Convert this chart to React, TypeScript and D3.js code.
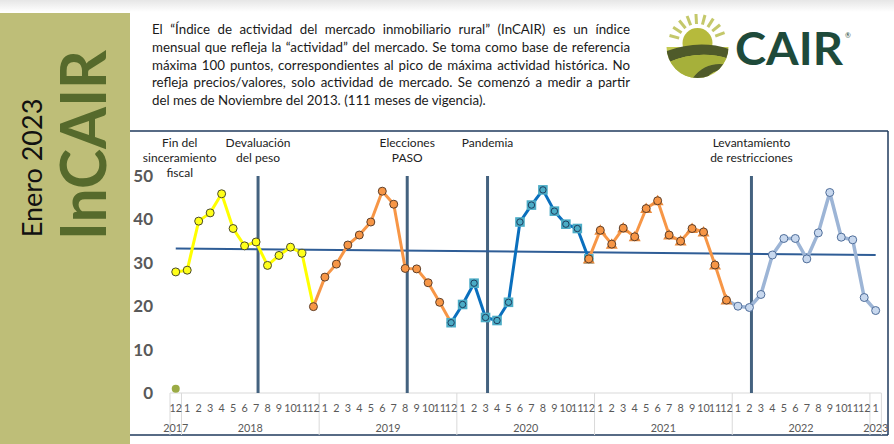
import React, {useEffect, useRef} from "react";
import * as d3 from "d3";

// Eje X: meses agrupados por año
const anios = ["2017", "2018", "2019", "2020", "2021", "2022", "2023"];
const mesesAnio = ["1", "2", "3", "4", "5", "6", "7", "8", "9", "10", "11", "12"];
const mesesPorAnio = [["12"], mesesAnio, mesesAnio, mesesAnio, mesesAnio, mesesAnio, ["1"]];

// InCAIR mensual (dic-2017 a ene-2023)
const incair = [
	27.9, 28.3, 39.6, 41.5, 45.9, 37.9, 33.9, 34.8, 29.4, 31.7, 33.6, 32.2,
	19.9, 26.7, 29.7, 34.1, 36.4, 39.4, 46.5, 43.5, 28.7, 28.6, 25.4, 20.9,
	16.2, 20.4, 25.3, 17.4, 16.7, 20.9, 39.4, 43.3, 46.8, 41.9, 38.9, 37.9,
	30.9, 37.5, 34.3, 38.0, 36.0, 42.5, 44.3, 36.4, 35.0, 37.9, 37.1, 29.5,
	21.4, 20.0, 19.7, 22.7, 31.8, 35.6, 35.6, 30.9, 36.9, 46.2, 35.9, 35.3,
	22.0, 19.0,
];
const valorInicial = [1];
const tendencia = [33.3, 31.8];
const yTicks = [0, 10, 20, 30, 40, 50];

// tramos de color de la serie (índices de inicio/fin)
const tramos = [
	{desde: 0, hasta: 12, marcaDesde: 0, marcaHasta: 11, tipo: "amarillo"},
	{desde: 12, hasta: 24, marcaDesde: 12, marcaHasta: 24, tipo: "naranja"},
	{desde: 24, hasta: 36, marcaDesde: 24, marcaHasta: 36, tipo: "azul"},
	{desde: 36, hasta: 48, marcaDesde: 36, marcaHasta: 48, tipo: "naranja2"},
	{desde: 48, hasta: 61, marcaDesde: 49, marcaHasta: 61, tipo: "celeste"},
];

const eventos = [
	{cat: "2017-12", texto: ["Fin del", "sinceramiento", "fiscal"], linea: false},
	{cat: "2018-7", texto: ["Devaluación", "del peso"], linea: true},
	{cat: "2019-8", texto: ["Elecciones", "PASO"], linea: true},
	{cat: "2020-3", texto: ["Pandemia"], linea: true},
	{cat: "2022-2", texto: ["Levantamiento", "de restricciones"], linea: true},
];

const parrafo = [
	"El “Índice de actividad del mercado inmobiliario rural” (InCAIR) es un índice",
	"mensual que refleja la “actividad” del mercado. Se toma como base de referencia",
	"máxima 100 puntos, correspondientes al pico de máxima actividad histórica. No",
	"refleja precios/valores, solo actividad de mercado. Se comenzó a medir a partir",
	"del mes de Noviembre del 2013. (111 meses de vigencia).",
];

const estilos: Record<string, {line: string; fill: string; stroke: string}> = {
	amarillo: {line: "#ffff00", fill: "#ffff1a", stroke: "#4a4a2a"},
	naranja: {line: "#f79646", fill: "#f79646", stroke: "#5e3f2a"},
	azul: {line: "#0a6fbd", fill: "#4bacc6", stroke: "#1f3f5f"},
	naranja2: {line: "#f79646", fill: "#f79646", stroke: "#5e3f2a"},
	celeste: {line: "#9db5d6", fill: "#c8d8ee", stroke: "#4f6d99"},
};

const FONT = "Lato, 'Open Sans', sans-serif";
const W = 894;
const H = 444;
const PAR_X0 = 152;
const PAR_X1 = 630;

const categorias = anios.flatMap((a, i) => mesesPorAnio[i].map((m) => `${a}-${m}`));

export default function App() {
	const parRef = useRef<SVGGElement>(null);

	// justificar párrafo (word-spacing), otra vez cuando cargan las fuentes
	useEffect(() => {
		const justificar = () => {
			if (!parRef.current) return;
			d3.select(parRef.current)
				.selectAll<SVGTextElement, unknown>("text.just")
				.each(function () {
					this.style.wordSpacing = "0px";
					const w = this.getComputedTextLength();
					const n = (this.textContent || "").split(" ").length - 1;
					this.style.wordSpacing = `${Math.max(0, (PAR_X1 - PAR_X0 - w) / n)}px`;
				});
		};
		justificar();
		document.fonts?.ready.then(justificar);
	}, []);

	const x = d3.scaleBand<string>().domain(categorias).range([170, 881.4]);
	const y = d3.scaleLinear().domain([0, 50]).range([393, 176]);
	const cx = (i: number) => (x(categorias[i]) as number) + x.bandwidth() / 2;

	const pathFor = (desde: number, hasta: number) =>
		d3
			.line<number>()
			.x((i) => cx(i))
			.y((i) => y(incair[i]))(d3.range(desde, hasta + 1)) as string;

	// separadores de año
	const sepIdx: number[] = [];
	let acc = 0;
	mesesPorAnio.forEach((m) => {
		sepIdx.push(acc);
		acc += m.length;
	});
	const sepX = sepIdx.map((i) => x(categorias[i]) as number).concat([x.range()[1]]);

	const marcas = (t: (typeof tramos)[number]) => {
		const s = estilos[t.tipo];
		return d3.range(t.marcaDesde, t.marcaHasta + 1).map((i) => {
			const px = cx(i);
			const py = y(incair[i]);
			if (t.tipo === "azul") {
				return (
					<g key={`${t.tipo}${i}`}>
						<rect x={px - 4.8} y={py - 4.8} width={9.6} height={9.6} fill={s.fill} />
						<circle cx={px} cy={py} r={3.2} fill={s.fill} stroke={s.stroke} strokeWidth={1} />
					</g>
				);
			}
			if (t.tipo === "naranja2") {
				return (
					<g key={`${t.tipo}${i}`}>
						<path d={`M${px},${py - 6}L${px + 6},${py + 4.5}L${px - 6},${py + 4.5}Z`} fill="#e98a3c" />
						<circle cx={px} cy={py} r={4} fill={s.fill} stroke={s.stroke} strokeWidth={1} />
					</g>
				);
			}
			return <circle key={`${t.tipo}${i}`} cx={px} cy={py} r={4} fill={s.fill} stroke={s.stroke} strokeWidth={1} />;
		});
	};

	return (
		<svg width={W} height={H} style={{position: "absolute", left: 0, top: 0, fontFamily: FONT}}>
			<defs>
				<linearGradient id="top" x1="0" y1="0" x2="0" y2="1">
					<stop offset="0" stopColor="#e6e6e6" />
					<stop offset="1" stopColor="#ffffff" />
				</linearGradient>
				<clipPath id="emblema">
					<circle cx={697.5} cy={47} r={31} />
				</clipPath>
			</defs>
			<rect width={W} height={H} fill="#fff" />
			<rect width={W} height={12} fill="url(#top)" />

			{/* barra lateral */}
			<rect x={0} y={13} width={130} height={H - 13} fill="#bebe78" />
			<text transform="translate(42,168) rotate(-90)" textAnchor="middle" fontSize={27} fill="#111">
				Enero 2023
			</text>
			<text
				transform="translate(106,145) rotate(-90)"
				textAnchor="middle"
				fontSize={64}
				fontWeight="bold"
				fill="#566a2c"
				textLength={190}
				lengthAdjust="spacingAndGlyphs"
			>
				InCAIR
			</text>

			{/* párrafo */}
			<g ref={parRef} fontSize={13.3} fill="#1a1a1a">
				{parrafo.map((l, i) => (
					<text key={i} className={i < parrafo.length - 1 ? "just" : ""} x={PAR_X0} y={34 + i * 17.8}>
						{l}
					</text>
				))}
			</g>

			{/* logo */}
			<g>
				{d3.range(-165, -10, 18).map((a) => {
					const r = (a * Math.PI) / 180;
					return (
						<line
							key={a}
							x1={697.5 + 19 * Math.cos(r)}
							y1={43 + 19 * Math.sin(r)}
							x2={697.5 + 29 * Math.cos(r)}
							y2={43 + 29 * Math.sin(r)}
							stroke="#c4c86a"
							strokeWidth={3}
						/>
					);
				})}
				<g clipPath="url(#emblema)">
					<circle cx={697.5} cy={43} r={15} fill="#b6ba3c" />
					<rect x={665} y={47} width={66} height={35} fill="#c4ca52" />
					<path d="M664,52 Q700,38 732,50 L732,60 Q700,48 664,64Z" fill="#4f5a2a" />
					<path d="M664,64 Q700,48 732,60 L732,66 Q705,58 690,82 L664,82Z" fill="#a6b03a" />
					<path d="M690,82 Q705,58 732,66 L732,72 Q712,66 705,82Z" fill="#4f5a2a" />
				</g>
				<text x={735} y={65} fontSize={46} fontWeight="bold" fill="#1e4a3a" textLength={108} lengthAdjust="spacingAndGlyphs">
					CAIR
				</text>
				<text x={845} y={38} fontSize={7} fill="#1e4a3a">
					®
				</text>
			</g>

			{/* marco del gráfico */}
			<g stroke="#1f3a5c" strokeWidth={1.5}>
				<line x1={130} x2={888} y1={131} y2={131} />
				<line x1={888} x2={888} y1={131} y2={435} />
				<line x1={130} x2={888} y1={435} y2={435} />
			</g>

			{/* eje Y */}
			<g fontSize={17} fontWeight="bold" fill="#595959" textAnchor="end">
				{yTicks.map((t) => (
					<text key={t} x={153} y={y(t) + 6}>
						{t}
					</text>
				))}
			</g>

			{/* eje X */}
			<g stroke="#d9d9d9" strokeWidth={1}>
				<line x1={170} x2={x.range()[1]} y1={393} y2={393} />
				{sepX.map((sx, i) => (
					<line key={i} x1={sx} x2={sx} y1={393} y2={435} />
				))}
			</g>
			<g fontSize={10.8} fill="#595959" textAnchor="middle">
				{categorias.map((c, i) => (
					<text key={c} x={cx(i)} y={412}>
						{c.split("-")[1]}
					</text>
				))}
				{anios.map((a, k) => {
					const i0 = sepIdx[k];
					const i1 = i0 + mesesPorAnio[k].length - 1;
					return (
						<text key={a} x={(cx(i0) + cx(i1)) / 2} y={432}>
							{a}
						</text>
					);
				})}
			</g>

			{/* eventos */}
			{eventos.map((e) => {
				const ex = (x(e.cat) as number) + x.bandwidth() / 2 + 2;
				return (
					<g key={e.cat}>
						{e.linea && <line x1={ex} x2={ex} y1={y(50)} y2={y(0)} stroke="#44627f" strokeWidth={3} />}
						{e.texto.map((t, k) => (
							<text key={k} x={e.linea ? ex : ex + 2} y={147 + k * 15} fontSize={12} fill="#222" textAnchor="middle">
								{t}
							</text>
						))}
					</g>
				);
			})}

			{/* tendencia */}
			<line
				x1={cx(0)}
				x2={cx(categorias.length - 1)}
				y1={y(tendencia[0])}
				y2={y(tendencia[1])}
				stroke="#2f5d96"
				strokeWidth={2}
			/>

			{/* serie */}
			{tramos.map((t) => (
				<path
					key={t.tipo}
					d={pathFor(t.desde, t.hasta)}
					fill="none"
					stroke={estilos[t.tipo].line}
					strokeWidth={t.tipo === "celeste" ? 3.5 : 3}
					strokeLinejoin="round"
				/>
			))}
			{tramos.map((t) => (
				<g key={t.tipo}>{marcas(t)}</g>
			))}
			<circle cx={cx(0)} cy={y(valorInicial[0])} r={4} fill="#9bab45" />
		</svg>
	);
}
